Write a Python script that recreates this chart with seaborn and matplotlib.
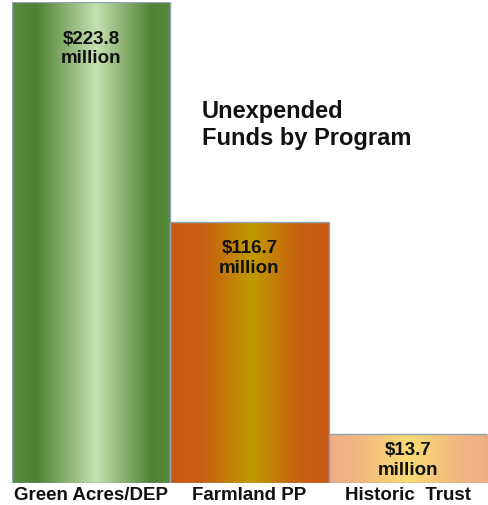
import numpy as np
import pandas as pd
import matplotlib
matplotlib.use('Agg')
import matplotlib.pyplot as plt
from matplotlib.colors import LinearSegmentedColormap
import seaborn as sns

programs = ['Green Acres/DEP', 'Farmland PP', 'Historic  Trust']
unexpended = [223.8, 116.7, 13.7]
value_labels = ['$223.8\nmillion', '$116.7\nmillion', '$13.7\nmillion']
title = 'Unexpended\nFunds by Program'

# horizontal gradient stops for each bar (position, colour), left -> right
gradient_colors = [
    [(0.0, '#5a8c3d'), (0.15, '#4e8131'), (0.53, '#c6e0b2'), (0.88, '#4f8232'), (1.0, '#578a3a')],
    [(0.0, '#c95814'), (0.2, '#c75e12'), (0.52, '#c09a00'), (0.82, '#c75e12'), (1.0, '#c95814')],
    [(0.0, '#f2ac84'), (0.2, '#f4b880'), (0.5, '#f8dc74'), (0.8, '#f4b880'), (1.0, '#f2ac84')],
]
label_offsets = [-20, -12, -5]  # points below the bar top

sns.set_theme(style='white')
plt.rcParams['font.family'] = ['Liberation Sans', 'DejaVu Sans']

df = pd.DataFrame({'program': programs, 'unexpended': unexpended})

fig = plt.figure(figsize=(4.89, 5.06), dpi=100)
ax = fig.add_axes([12 / 489, 22 / 506, 475 / 489, 481 / 506])

sns.barplot(data=df, x='program', y='unexpended', order=programs,
            width=1.0, edgecolor='#8ea4b4', linewidth=1.0, ax=ax)

y_min, y_max = -10, 223.8
for patch, colors in zip(ax.patches, gradient_colors):
    top = patch.get_height()
    patch.set_y(y_min)
    patch.set_height(top - y_min)
    patch.set_facecolor('none')
    patch.set_zorder(3)
    x0 = patch.get_x()
    x1 = x0 + patch.get_width()
    cmap = LinearSegmentedColormap.from_list('bar', colors)
    grad = np.linspace(0, 1, 256).reshape(1, -1)
    img = ax.imshow(grad, aspect='auto', cmap=cmap,
                    extent=[x0, x1, y_min, top], zorder=2,
                    interpolation='bilinear')
    img.set_clip_path(patch)

for i, (val, lab) in enumerate(zip(unexpended, value_labels)):
    ax.annotate(lab, xy=(i, val), xytext=(0, label_offsets[i]),
                textcoords='offset points', ha='center', va='top',
                fontsize=13.5, fontweight='bold', color='#111111',
                linespacing=1.2, zorder=4)

ax.text(202 / 489, 1 - 100 / 506, title, transform=fig.transFigure,
        ha='left', va='top', fontsize=17, fontweight='bold',
        color='#111111', linespacing=1.2)

ax.set_xlim(-0.5, 2.5)
ax.set_ylim(y_min, y_max)
ax.set_xlabel('')
ax.set_ylabel('')
ax.set_yticks([])
ax.tick_params(axis='x', length=0, pad=2)
for t in ax.get_xticklabels():
    t.set_fontweight('bold')
    t.set_fontsize(13.5)
    t.set_color('#111111')
sns.despine(ax=ax, left=True, bottom=True)

fig.savefig('out.png', dpi=100)
